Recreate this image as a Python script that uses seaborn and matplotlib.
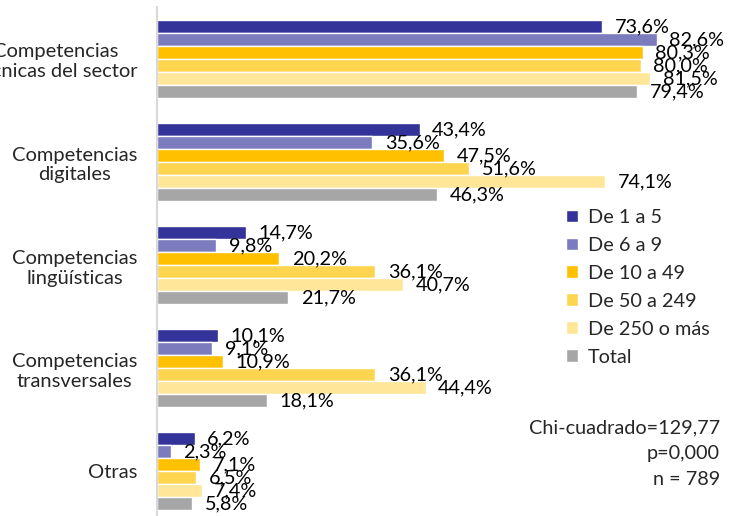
import pandas as pd
import numpy as np
import matplotlib.pyplot as plt
import seaborn as sns

categories = ["Competencias\ntécnicas del sector", "Competencias\ndigitales",
              "Competencias\nlingüísticas", "Competencias\ntransversales", "Otras"]
series = ["De 1 a 5", "De 6 a 9", "De 10 a 49", "De 50 a 249", "De 250 o más", "Total"]
de_1_a_5 = [73.6, 43.4, 14.7, 10.1, 6.2]
de_6_a_9 = [82.6, 35.6, 9.8, 9.1, 2.3]
de_10_a_49 = [80.3, 47.5, 20.2, 10.9, 7.1]
de_50_a_249 = [80.0, 51.6, 36.1, 36.1, 6.5]
de_250_mas = [81.5, 74.1, 40.7, 44.4, 7.4]
total = [79.4, 46.3, 21.7, 18.1, 5.8]
colors = ["#333399", "#7b7bbd", "#ffc000", "#ffd54f", "#ffe699", "#a6a6a6"]
stats_text = "Chi-cuadrado=129,77\np=0,000\nn = 789"

values = [de_1_a_5, de_6_a_9, de_10_a_49, de_50_a_249, de_250_mas, total]
rows = []
for s, vals in zip(series, values):
    for c, v in zip(categories, vals):
        rows.append({"Competencia": c, "Tamaño": s, "Porcentaje": v})
df = pd.DataFrame(rows)

sns.set_style("white")
plt.rcParams["font.family"] = ["Lato", "DejaVu Sans"]

fig = plt.figure(figsize=(7.39, 5.16), dpi=100)
ax = fig.add_axes([157 / 739, -0.0136, 1 - 157 / 739, 0.9992])

sns.barplot(data=df, y="Competencia", x="Porcentaje", hue="Tamaño",
            hue_order=series, order=categories, palette=colors,
            orient="h", width=0.757, gap=0, saturation=1, ax=ax, legend=True)

# etiquetas de datos con coma decimal
for cont in ax.containers:
    labels = [f"{b.get_width():.1f}".replace(".", ",") + "%" for b in cont]
    ax.bar_label(cont, labels=labels, padding=9, fontsize=14.3, color="#000000")

ax.set_xlim(0, 96.2)
ax.set_ylim(4.5, -0.5)
ax.set_xlabel("")
ax.set_ylabel("")
ax.set_xticks([])
ax.tick_params(axis="y", length=0, pad=14, labelsize=14.5)
for lab in ax.get_yticklabels():
    lab.set_multialignment("center")
for side in ["top", "right", "bottom"]:
    ax.spines[side].set_visible(False)
ax.spines["left"].set_color("#d9d9d9")
ax.spines["left"].set_linewidth(1.5)

handles, labs = ax.get_legend_handles_labels()
ax.legend(handles, labs, loc="upper left", bbox_to_anchor=(558 / 739, 1 - 201 / 516),
          bbox_transform=fig.transFigure, frameon=False, fontsize=14.3,
          handlelength=0.6, handleheight=0.6, handletextpad=0.5, labelspacing=0.55,
          borderaxespad=0)

fig.text(720 / 739, 1 - 419 / 516, stats_text, ha="right", va="top",
         fontsize=14.3, linespacing=1.66, multialignment="right")

fig.savefig("out.png", dpi=100)
